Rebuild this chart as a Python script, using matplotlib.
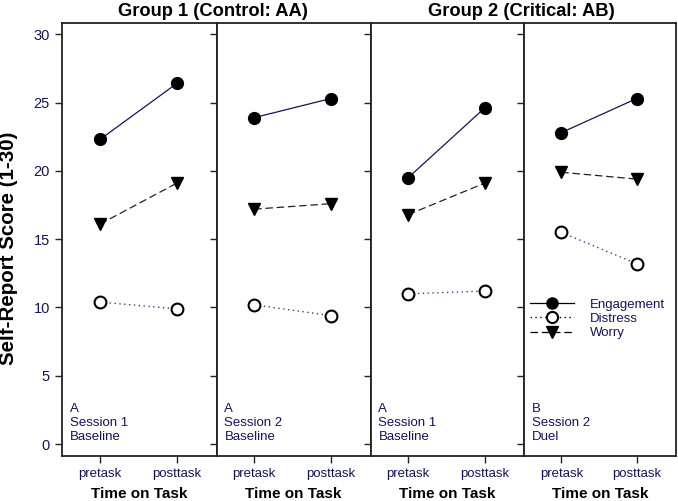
import matplotlib
matplotlib.use("Agg")
import matplotlib.pyplot as plt
from matplotlib.lines import Line2D

plt.rcParams['font.family'] = ['Liberation Sans', 'DejaVu Sans']

time_labels = ["pretask", "posttask"]
panel_notes = ["A\nSession 1\nBaseline", "A\nSession 2\nBaseline",
               "A\nSession 1\nBaseline", "B\nSession 2\nDuel"]
group_titles = ["Group 1 (Control: AA)", "Group 2 (Critical: AB)"]

engagement = [[22.3, 26.4], [23.9, 25.3], [19.5, 24.6], [22.8, 25.3]]
distress = [[10.4, 9.9], [10.2, 9.4], [11.0, 11.2], [15.5, 13.2]]
worry = [[16.1, 19.1], [17.2, 17.6], [16.8, 19.1], [19.9, 19.4]]

navy = '#14145a'
W, H = 678, 501
fig = plt.figure(figsize=(W / 100, H / 100), dpi=100)

edges = [62.3, 216.7, 370.7, 524.3, 676.0]
y_bot, y_top = 455.7, 22.7
axes = []
for i in range(4):
    ax = fig.add_axes([edges[i] / W, (H - y_bot) / H,
                       (edges[i + 1] - edges[i]) / W, (y_bot - y_top) / H])
    axes.append(ax)
    x = [0, 1]
    ax.plot(x, engagement[i], color=navy, lw=0.9, ls='-', marker='o',
            ms=8.5, mfc='black', mec='black', zorder=3)
    ax.plot(x, distress[i], color='#3a3a8a', lw=1.0, ls=(0, (1, 2.5)), marker='o',
            ms=8.5, mfc='white', mec='black', mew=1.5, zorder=3)
    ax.plot(x, worry[i], color='#222222', lw=0.9, ls=(0, (6, 3)), marker='v',
            ms=9, mfc='black', mec='black', zorder=3)
    ax.set_xlim(-0.49, 1.52)
    ax.set_ylim(-0.85, 30.85)
    ax.set_yticks([0, 5, 10, 15, 20, 25, 30])
    ax.set_xticks(x)
    ax.set_xticklabels(time_labels, fontsize=9.5, color=navy)
    ax.tick_params(axis='both', direction='out', length=5, width=1,
                   color='#222222', pad=4)
    ax.tick_params(axis='y', labelsize=10.5, labelcolor=navy)
    if i > 0:
        ax.set_yticklabels([])
    for s in ax.spines.values():
        s.set_linewidth(1.3)
        s.set_color('#222222')
    ax.set_xlabel("Time on Task", fontsize=11, fontweight='bold', labelpad=5)
    ax.text(0.05, 0.03, panel_notes[i], transform=ax.transAxes,
            fontsize=9.5, color=navy, ha='left', va='bottom', linespacing=1.2)

fig.text(9 / W, 1 - 248 / H, "Self-Report Score (1-30)", rotation=90,
         ha='center', va='center', fontsize=14.8, fontweight='bold')

# group titles
fig.text(edges[1] / W - 4 / W, 1 - 11 / H, group_titles[0], ha='center',
         va='center', fontsize=13.2, fontweight='bold')
fig.text(edges[3] / W - 3 / W, 1 - 11 / H, group_titles[1], ha='center',
         va='center', fontsize=13.2, fontweight='bold')

handles = [
    Line2D([], [], color='black', lw=0.9, ls='-', marker='o', ms=8,
           mfc='black', mec='black'),
    Line2D([], [], color='black', lw=1.0, ls=(0, (1, 2.5)), marker='o', ms=8,
           mfc='white', mec='black', mew=1.5),
    Line2D([], [], color='black', lw=0.9, ls=(0, (6, 3)), marker='v', ms=8.5,
           mfc='black', mec='black'),
]
leg = axes[3].legend(handles, ["Engagement", "Distress", "Worry"],
                     loc='upper left', bbox_to_anchor=(0.0, 0.375),
                     frameon=False, fontsize=9.5, handlelength=3.4,
                     handletextpad=1.2, labelspacing=0.15, borderaxespad=0)
for t in leg.get_texts():
    t.set_color(navy)

fig.savefig("out.png", dpi=100)
